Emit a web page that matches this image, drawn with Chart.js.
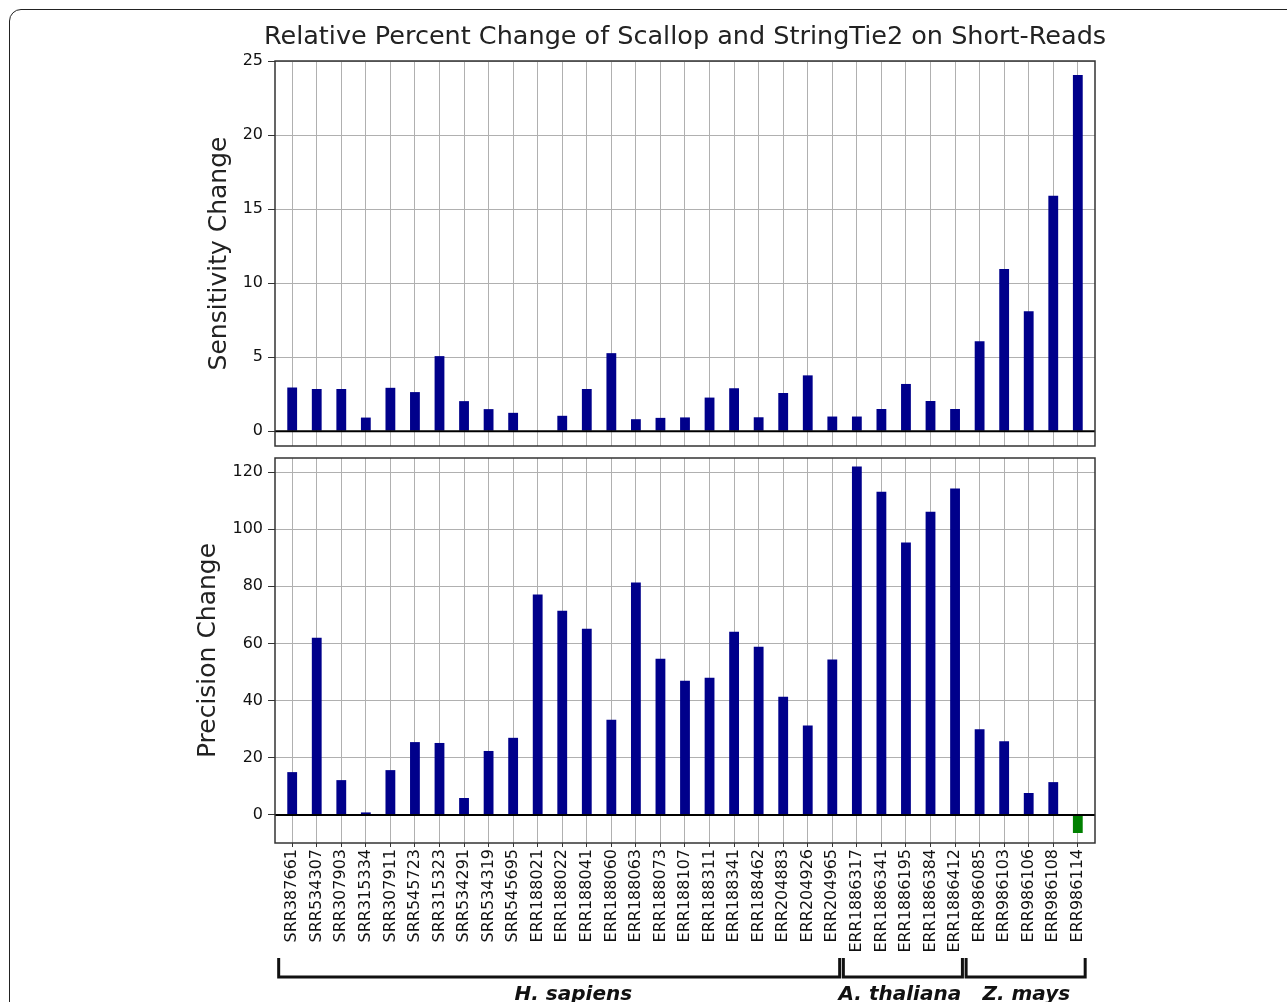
<!DOCTYPE html>
<html><head><meta charset="utf-8">
<script src="https://cdn.jsdelivr.net/npm/chart.js@4.4.1/dist/chart.umd.min.js"></script>
<style>
html,body{margin:0;padding:0;background:#fff;width:1287px;height:1002px;overflow:hidden;position:relative;}
#frame{position:absolute;left:9px;top:9px;width:1300px;height:1010px;border:1.5px solid #222;border-radius:12px;box-sizing:border-box;}
#c1{position:absolute;left:160px;top:0;}
#c2{position:absolute;left:160px;top:446px;}
</style></head><body>
<div id="frame"></div>
<canvas id="c1" width="1050" height="460"></canvas>
<canvas id="c2" width="1050" height="556"></canvas>
<script>
const chartTitle = 'Relative Percent Change of Scallop and StringTie2 on Short-Reads';
const categories = ['SRR387661','SRR534307','SRR307903','SRR315334','SRR307911','SRR545723','SRR315323','SRR534291','SRR534319','SRR545695',
  'ERR188021','ERR188022','ERR188041','ERR188060','ERR188063','ERR188073','ERR188107','ERR188311','ERR188341','ERR188462',
  'ERR204883','ERR204926','ERR204965','ERR1886317','ERR1886341','ERR1886195','ERR1886384','ERR1886412',
  'ERR986085','ERR986103','ERR986106','ERR986108','ERR986114'];
const sensitivityChange = [2.95,2.85,2.85,0.92,2.93,2.64,5.07,2.03,1.49,1.24,
  0,1.04,2.85,5.27,0.81,0.9,0.93,2.27,2.9,0.94,
  2.58,3.77,0.99,0.99,1.5,3.19,2.04,1.5,
  6.08,10.95,8.1,15.9,24.05];
const precisionChange = [15.0,62.0,12.2,0.9,15.7,25.5,25.2,5.95,22.4,27.0,
  77.1,71.5,65.2,33.3,81.3,54.7,47.0,48.0,64.1,58.9,
  41.4,31.3,54.4,121.9,113.1,95.3,106.1,114.2,
  30.0,25.8,7.7,11.5,-6.3];
const sensitivityTicks = [0,5,10,15,20,25];
const precisionTicks = [0,20,40,60,80,100,120];
const groupNames = ['H. sapiens','A. thaliana','Z. mays'];
const groupFirst = [0,23,28];
const groupLast = [22,27,32];

const NAVY = '#00008b', GREEN = '#008000';
Chart.defaults.font.family = "'DejaVu Sans', sans-serif";
Chart.defaults.color = '#111';

const framePlugin = {
  id: 'frameBox',
  afterDatasetsDraw(chart) {
    const {ctx, chartArea: a} = chart;
    const y0 = chart.scales.y.getPixelForValue(0);
    ctx.save();
    ctx.strokeStyle = '#000'; ctx.lineWidth = 2;
    ctx.beginPath(); ctx.moveTo(a.left, y0); ctx.lineTo(a.right, y0); ctx.stroke();
    ctx.strokeStyle = '#333'; ctx.lineWidth = 1.5;
    ctx.strokeRect(a.left, a.top, a.right - a.left, a.bottom - a.top);
    ctx.restore();
  }
};

const titlePlugin = {
  id: 'topTitle',
  afterDraw(chart) {
    const {ctx, chartArea: a} = chart;
    ctx.save();
    ctx.fillStyle = '#222';
    ctx.font = "25.5px 'DejaVu Sans', sans-serif";
    ctx.textAlign = 'center'; ctx.textBaseline = 'middle';
    ctx.fillText(chartTitle, (a.left + a.right) / 2, a.top - 24);
    ctx.restore();
  }
};

const groupAnchor = [11.45, 24.75, 29.9];
const bracketPlugin = {
  id: 'brackets',
  afterDraw(chart) {
    const {ctx, chartArea: a} = chart;
    const xs = chart.scales.x;
    const yTop = a.bottom + 115, yBar = a.bottom + 134;
    ctx.save();
    ctx.strokeStyle = '#111'; ctx.lineWidth = 3; ctx.lineJoin = 'miter';
    groupNames.forEach((name, g) => {
      const x1 = xs.getPixelForValue(groupFirst[g] - 0.55);
      const x2 = xs.getPixelForValue(groupLast[g] + 0.3);
      ctx.beginPath(); ctx.moveTo(x1, yTop); ctx.lineTo(x1, yBar); ctx.lineTo(x2, yBar); ctx.lineTo(x2, yTop); ctx.stroke();
      ctx.fillStyle = '#111';
      ctx.font = "italic bold 20px 'DejaVu Sans', sans-serif";
      ctx.textAlign = 'center'; ctx.textBaseline = 'alphabetic';
      ctx.fillText(name, xs.getPixelForValue(groupAnchor[g]), a.bottom + 157);
    });
    ctx.restore();
  }
};

function makeData(values) {
  return {
    datasets: [{
      data: values.map((v, i) => ({x: i, y: v})),
      backgroundColor: values.map(v => v < 0 ? GREEN : NAVY),
      borderWidth: 0,
      barPercentage: 0.4,
      categoryPercentage: 1.0
    }]
  };
}

function xScale(showLabels) {
  return {
    type: 'linear', min: -0.7, max: 32.7, offset: false,
    afterBuildTicks: s => { s.ticks = categories.map((_, i) => ({value: i})); },
    afterFit: s => { s.paddingLeft = 0; s.paddingRight = 0; s.height = showLabels ? 159 : 0; },
    grid: {color: '#b0b0b0', lineWidth: 1, offset: false, drawTicks: showLabels, tickLength: 4, tickColor: '#333'},
    border: {display: false},
    ticks: {
      display: showLabels, autoSkip: false, minRotation: 90, maxRotation: 90, padding: 2,
      font: {size: 16}, color: '#111',
      callback: v => categories[v] ?? ''
    }
  };
}

function yScale(min, max, tickVals, title, titlePad) {
  return {
    type: 'linear', min: min, max: max,
    afterBuildTicks: s => { s.ticks = tickVals.map(v => ({value: v})); },
    afterFit: s => { s.width = 115; s.paddingTop = 0; s.paddingBottom = 0; },
    grid: {color: '#b0b0b0', lineWidth: 1, drawTicks: true, tickLength: 7, tickColor: '#333'},
    border: {display: false},
    ticks: {padding: 5, font: {size: 16}, color: '#111'},
    title: {display: true, text: title, font: {size: 25}, color: '#222', padding: {top: titlePad, bottom: 0}}
  };
}

new Chart(document.getElementById('c1'), {
  type: 'bar',
  data: makeData(sensitivityChange),
  options: {
    responsive: false, animation: false, devicePixelRatio: 1,
    layout: {padding: {left: 0, right: 115, top: 61, bottom: 14}},
    scales: {
      x: xScale(false),
      y: yScale(-1.0, 25, sensitivityTicks, 'Sensitivity Change', 44)
    },
    plugins: {legend: {display: false}, tooltip: {enabled: false}}
  },
  plugins: [framePlugin, titlePlugin]
});

new Chart(document.getElementById('c2'), {
  type: 'bar',
  data: makeData(precisionChange),
  options: {
    responsive: false, animation: false, devicePixelRatio: 1,
    layout: {padding: {left: 0, right: 115, top: 12, bottom: 0}},
    scales: {
      x: xScale(true),
      y: yScale(-9.8, 124.9, precisionTicks, 'Precision Change', 33)
    },
    plugins: {legend: {display: false}, tooltip: {enabled: false}}
  },
  plugins: [framePlugin, bracketPlugin]
});
</script>
</body></html>
